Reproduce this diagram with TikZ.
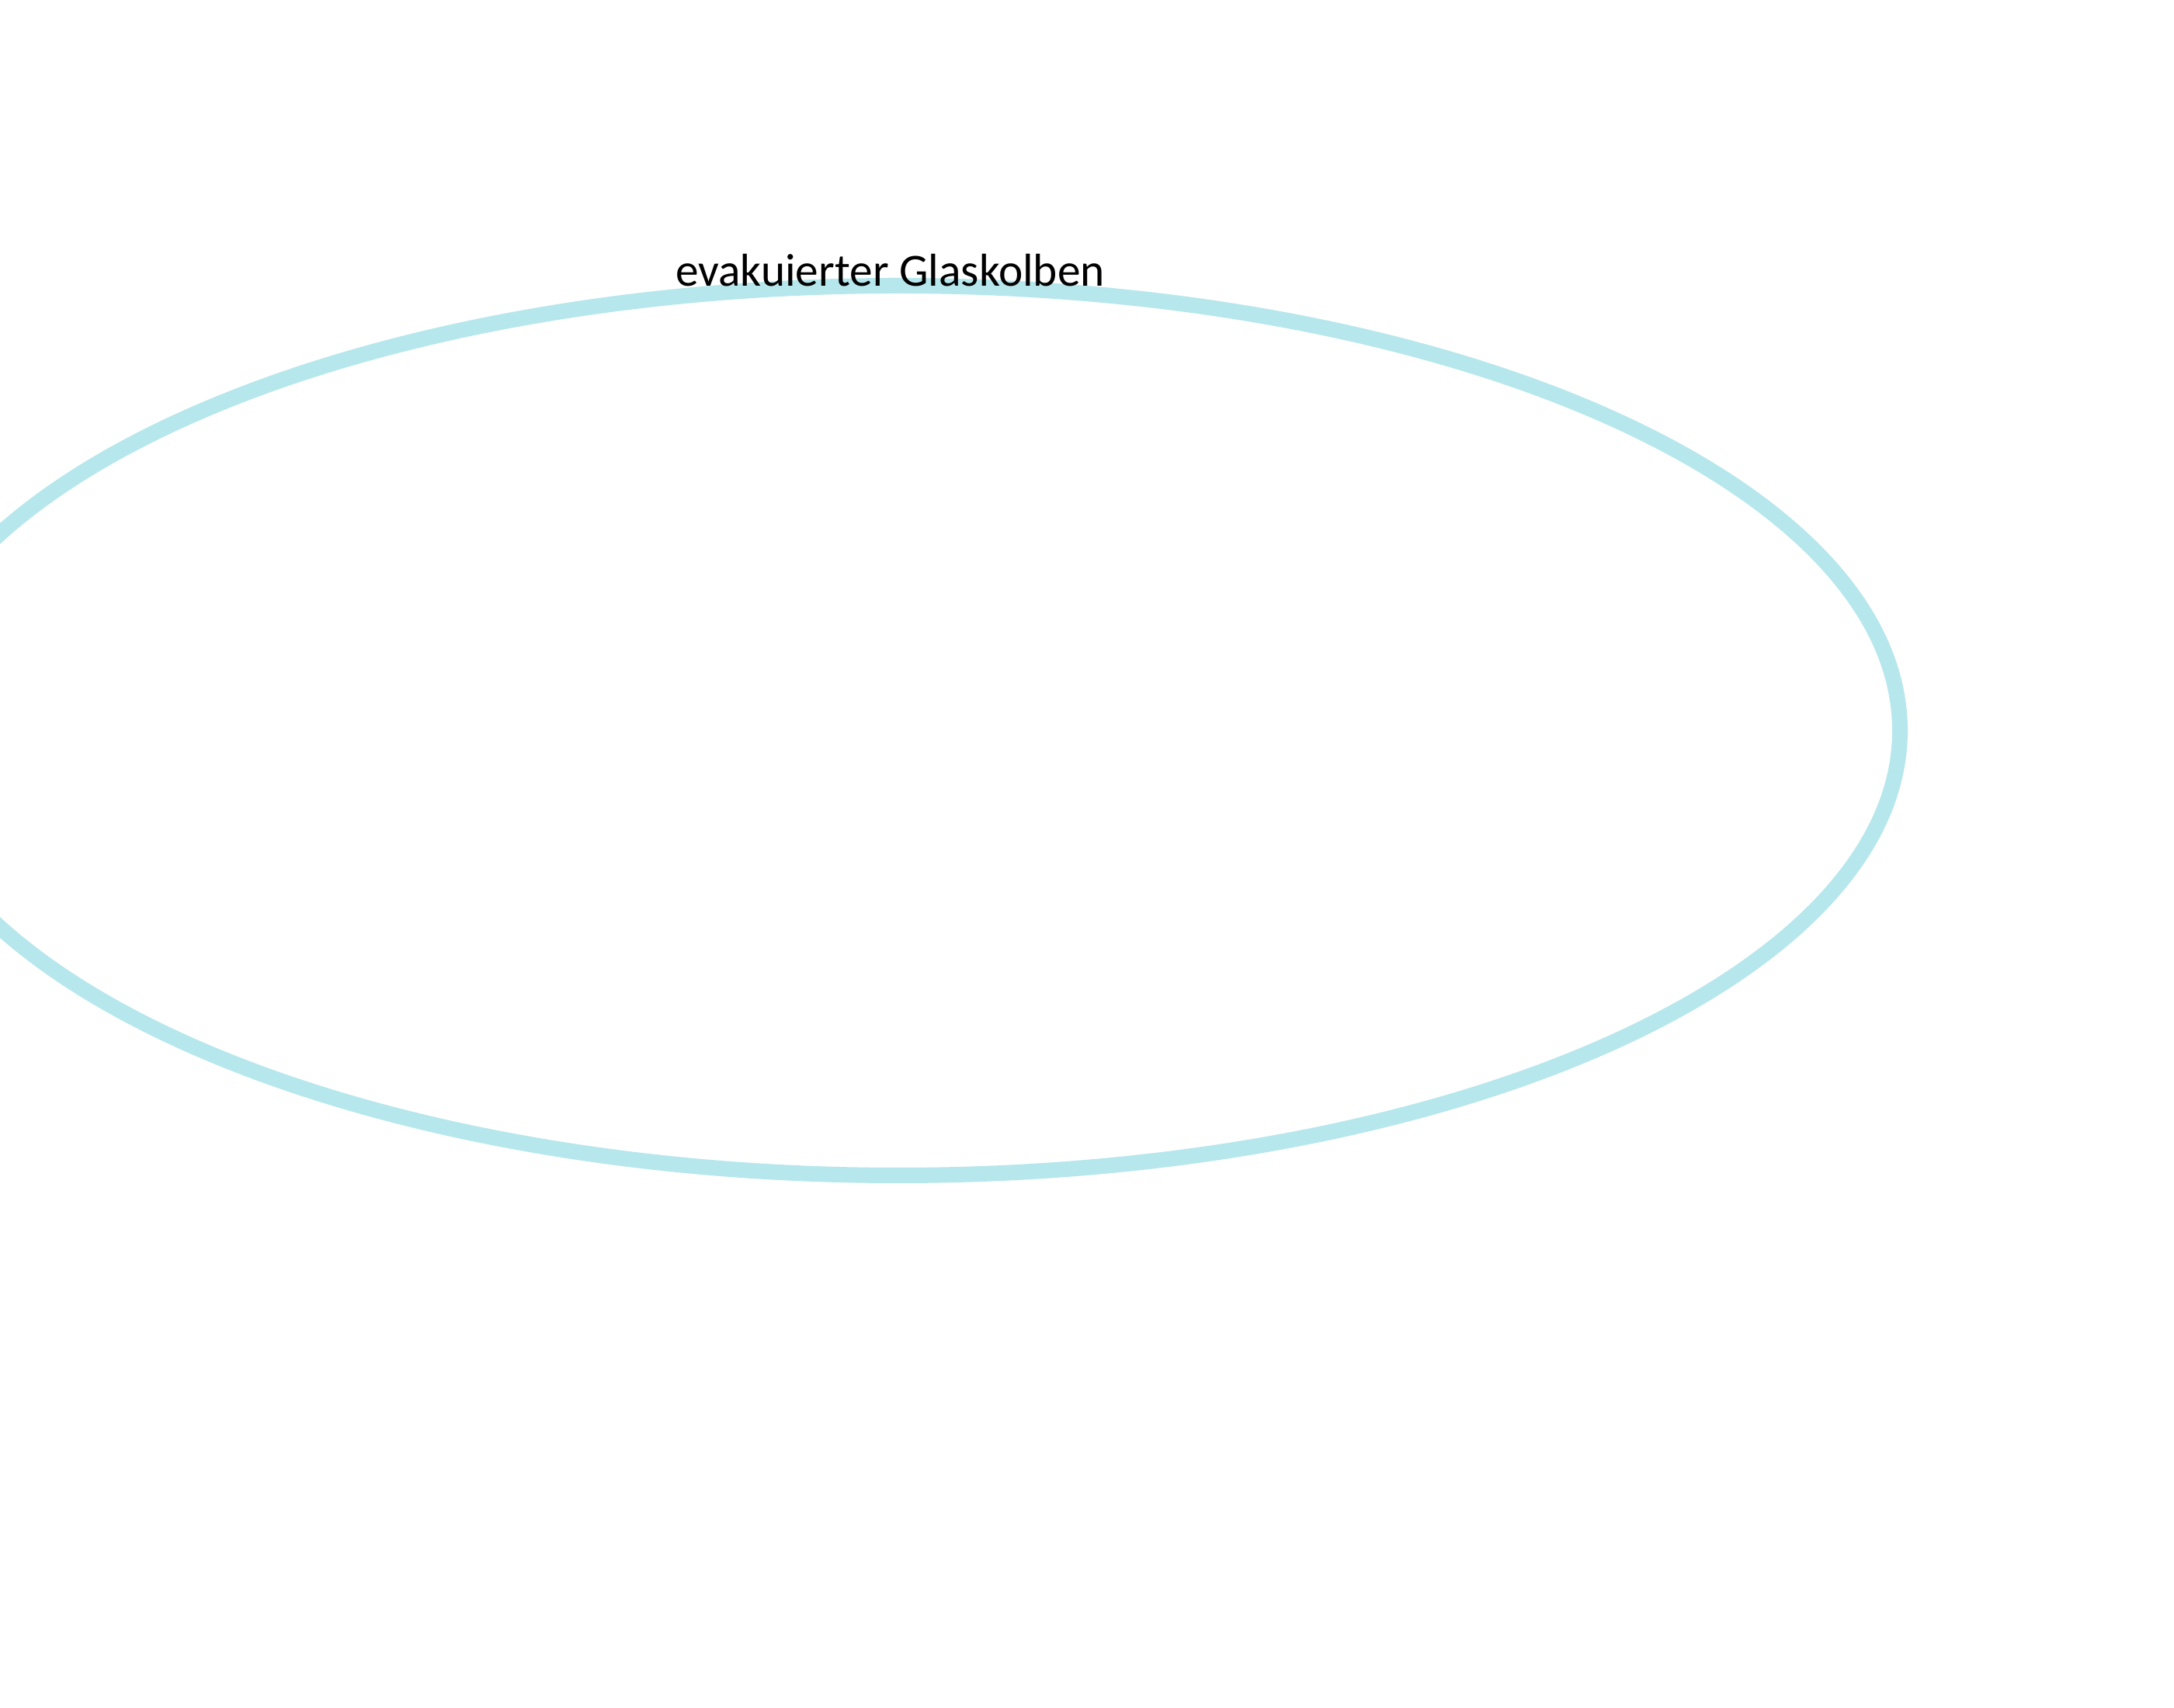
\documentclass[tikz,border=0pt]{standalone}
\usepackage{fontspec}
\setmainfont{Carlito}
\definecolor{glass}{RGB}{182,231,236}
\tikzset{
  bulb/.style={draw=glass, line width=0.2cm},
  lbl/.style={font=\fontsize{16.9}{20}\selectfont, text=black, inner sep=0pt, anchor=base}
}
\begin{document}
\begin{tikzpicture}
\useasboundingbox (0,0) rectangle (28,22);
\clip (0,0) rectangle (28,22);
\fill[white] (0,0) rectangle (28,22);
\draw[bulb] (11.57,12.59) ellipse [x radius=12.90, y radius=5.73];
\node[lbl] (label) at (11.465,18.31) {evakuierter Glaskolben};
\end{tikzpicture}
\end{document}
